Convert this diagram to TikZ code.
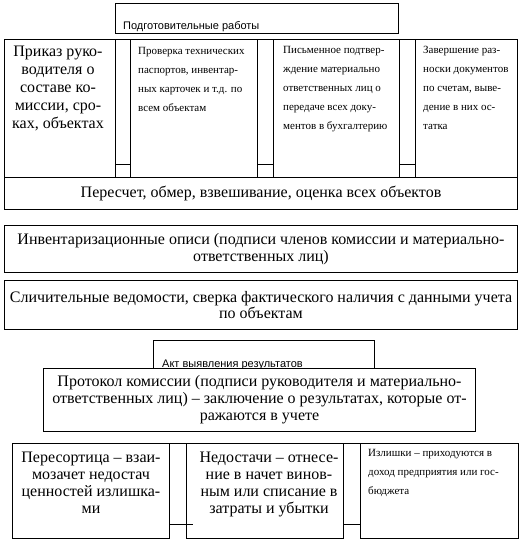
\documentclass[tikz,border=0pt]{standalone}
\usepackage{fontspec}
\setmainfont{LiberationSerif-Regular.ttf}
\newfontfamily\timesfont{LiberationSerif-Regular.ttf}
\newfontfamily\arialfont{Liberation Sans}
\usetikzlibrary{positioning,calc}
\tikzset{
  every node/.style={inner sep=0pt},
  frame/.style={
    rectangle, draw=black, fill=white, line width=1pt,
    anchor=north west
  },
  bigtext/.style={font=\timesfont\fontsize{16}{18}\selectfont, align=center},
  smalltext/.style={font=\timesfont\fontsize{11}{19}\selectfont, align=left, anchor=north west},
  captext/.style={font=\arialfont\fontsize{11}{12}\selectfont, anchor=base west},
  rule/.style={line width=1pt, draw=black},
}

\begin{document}
\begin{tikzpicture}[x=1pt,y=-1pt]
  \useasboundingbox (0,0) rectangle (524,544);
  % preparatory stage
  \node[frame, minimum width=283, minimum height=30] (podgot) at (115,3) {};
  \node[captext] (podgot-t) at (123,29) {Подготовительные работы};
  \node[frame, minimum width=111, minimum height=138] (prikaz) at (4,39) {};
  \node[frame, minimum width=127, minimum height=138] (proverka) at (130,39) {};
  \node[frame, minimum width=126, minimum height=138] (pismo) at (273,39) {};
  \node[frame, minimum width=102, minimum height=138] (zaversh) at (415,39) {};
  \draw[rule] (prikaz.north east) -- (proverka.north west);
  \draw[rule] (proverka.north east) -- (pismo.north west);
  \draw[rule] (pismo.north east) -- (zaversh.north west);
  \draw[rule] ($(prikaz.south east)+(0,-14)$) -- ($(proverka.south west)+(0,-14)$);
  \draw[rule] ($(proverka.south east)+(0,-14)$) -- ($(pismo.south west)+(0,-14)$);
  \draw[rule] ($(pismo.south east)+(0,-14)$) -- ($(zaversh.south west)+(0,-14)$);
  \node[bigtext, anchor=north] (prikaz-t) at ($(prikaz.north)+(-2,7)$)
    {Приказ руко-\\водителя о\\составе ко-\\миссии, сро-\\ках, объектах};
  \node[smalltext] (proverka-t) at ($(proverka.north west)+(8,8)$)
    {Проверка технических\\паспортов, инвентар-\\ных карточек и т.д. по\\всем объектам};
  \node[smalltext] (pismo-t) at ($(pismo.north west)+(10,7)$)
    {Письменное подтвер-\\ждение материально\\ответственных лиц о\\передаче всех доку-\\ментов в бухгалтерию};
  \node[smalltext] (zaversh-t) at ($(zaversh.north west)+(8,7)$)
    {Завершение раз-\\носки документов\\по счетам, выве-\\дение в них ос-\\татка};
  % inventory itself
  \node[frame, bigtext, minimum width=513, minimum height=32] (pereschet) at (4,177)
    {Пересчет, обмер, взвешивание, оценка всех объектов};
  \node[frame, bigtext, minimum width=513, minimum height=47, font=\timesfont\fontsize{16}{16.5}\selectfont] (opisi) at (4,225)
    {Инвентаризационные описи (подписи членов комиссии и материально-\\ответственных лиц)};
  \node[frame, bigtext, minimum width=513, minimum height=49, font=\timesfont\fontsize{16}{16.5}\selectfont] (slich) at (4,280)
    {Сличительные ведомости, сверка фактического наличия с данными учета\\по объектам};
  % results
  \node[frame, minimum width=221, minimum height=36] (akt) at (153,340) {};
  \node[captext] (akt-t) at (162,367) {Акт выявления результатов};
  \node[frame, bigtext, minimum width=432, minimum height=63, font=\timesfont\fontsize{16}{17}\selectfont] (protokol) at (43,368)
    {Протокол комиссии (подписи руководителя и материально-\\ответственных лиц) – заключение о результатах, которые от-\\ражаются в учете};
  \node[frame, minimum width=157, minimum height=95] (peresort) at (12,443) {};
  \node[frame, minimum width=157, minimum height=95] (nedost) at (186,443) {};
  \node[frame, minimum width=158, minimum height=95] (izlish) at (360,443) {};
  \draw[rule] (peresort.north east) -- (nedost.north west);
  \draw[rule] (nedost.north east) -- (izlish.north west);
  \draw[rule, shorten >=-7pt] ($(peresort.south east)+(0,-15)$) -- ($(nedost.south west)+(0,-15)$);
  \draw[rule] ($(nedost.south east)+(0,-15)$) -- ($(izlish.south west)+(0,-15)$);
  \node[bigtext, anchor=north, font=\timesfont\fontsize{16}{17}\selectfont] (peresort-t) at ($(peresort.north)+(0,9)$)
    {Пересортица – взаи-\\мозачет недостач\\ценностей излишка-\\ми};
  \node[bigtext, anchor=north, font=\timesfont\fontsize{16}{17}\selectfont] (nedost-t) at ($(nedost.north)+(4,9)$)
    {Недостачи – отнесе-\\ние в начет винов-\\ным или списание в\\затраты и убытки};
  \node[smalltext] (izlish-t) at ($(izlish.north west)+(8,6)$)
    {Излишки – приходуются в\\доход предприятия или гос-\\бюджета};
\end{tikzpicture}
\end{document}
